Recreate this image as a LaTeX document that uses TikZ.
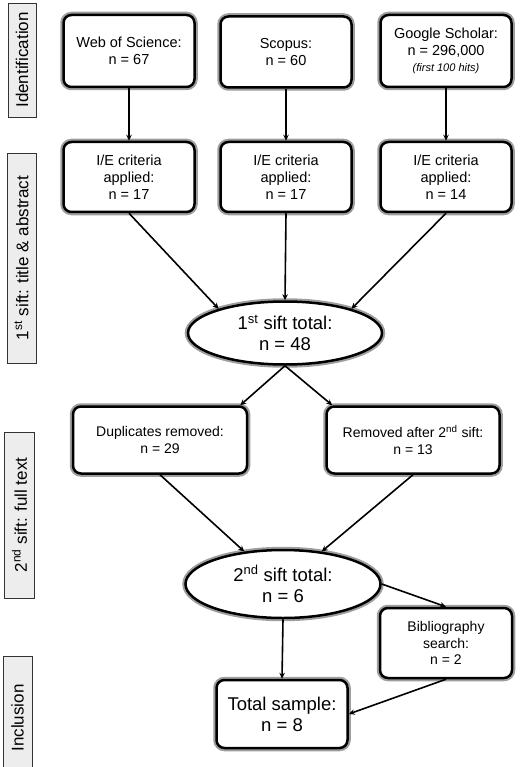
\documentclass[tikz,border=0pt]{standalone}
\usepackage{fontspec}
\setmainfont{Liberation Sans}
\usetikzlibrary{arrows.meta,shapes.geometric}
\tikzset{
  halo/.style={preaction={draw=black!38,line width=6.5pt}},
  box/.style={halo,draw=black,fill=white,line width=2.5pt,rounded corners=8pt,align=center,
    inner sep=2pt,font=\fontsize{14.5}{17}\selectfont},
  oval/.style={halo,ellipse,draw=black,fill=white,line width=2.5pt,align=center,inner sep=0pt,
    font=\fontsize{18.5}{21}\selectfont},
  side/.style={draw=black!80,fill=black!7,line width=0.9pt,rotate=90,inner sep=0pt,
    font=\fontsize{17}{20}\selectfont},
  arr/.style={-{Stealth[length=6pt,width=5.5pt]},line width=1.6pt},
}
\begin{document}
\begin{tikzpicture}[x=1pt,y=-1pt]
\useasboundingbox (0,0) rectangle (520,767);
\begin{scope}
\clip (0,0) rectangle (520,767);
% side labels
\node[side,minimum width=114pt,minimum height=28pt] (sid) at (22,60) {Identification};
\node[side,minimum width=210pt,minimum height=29pt] (sfirst) at (21.5,258) {1\textsuperscript{st} sift: title \& abstract};
\node[side,minimum width=166pt,minimum height=30pt] (ssecond) at (19.5,515) {2\textsuperscript{nd} sift: full text};
\node[side,minimum width=124pt,minimum height=29pt] (sinc) at (17.5,718) {Inclusion};
\end{scope}
% row 1
\node[box,minimum width=131pt,minimum height=72pt] (wos) at (129,51) {Web of Science:\\n = 67};
\node[box,minimum width=131pt,minimum height=71pt] (sco) at (286,52) {Scopus:\\n = 60};
\node[box,minimum width=131pt,minimum height=72pt] (gs) at (446,51) {Google Scholar:\\n = 296,000\\[-1pt]{\fontsize{11}{13}\selectfont\itshape (first 100 hits)}};
% row 2
\node[box,minimum width=131pt,minimum height=70pt] (wie) at (129,177) {I/E criteria\\applied:\\n = 17};
\node[box,minimum width=131pt,minimum height=70pt] (sie) at (286,177) {I/E criteria\\applied:\\n = 17};
\node[box,minimum width=131pt,minimum height=70pt] (gie) at (446,177) {I/E criteria\\applied:\\n = 14};
% first sift total
\node[oval,minimum width=194pt,minimum height=63pt] (e1) at (285,333) {1\textsuperscript{st} sift total:\\n = 48};
% removed
\node[box,minimum width=174pt,minimum height=67pt,font=\fontsize{14}{17}\selectfont] (dup) at (160,440) {Duplicates removed:\\n = 29};
\node[box,minimum width=173pt,minimum height=67pt,font=\fontsize{14}{17}\selectfont] (rem) at (413,440) {Removed after 2\textsuperscript{nd} sift:\\n = 13};
% second sift total
\node[oval,minimum width=195pt,minimum height=68pt] (e2) at (283,584) {2\textsuperscript{nd} sift total:\\n = 6};
% bibliography
\node[box,minimum width=132pt,minimum height=70pt,font=\fontsize{14}{16.7}\selectfont] (bib) at (446,643) {Bibliography\\search:\\n = 2};
% total
\node[box,minimum width=131pt,minimum height=68pt,font=\fontsize{18.5}{21}\selectfont] (tot) at (282,714) {Total sample:\\n = 8};
% connectors
\draw[arr] (wos) -- (wie);
\draw[arr] (sco) -- (sie);
\draw[arr] (gs) -- (gie);
\draw[arr] (wie.south) -- (e1.160);
\draw[arr] (sie.south) -- (e1.north);
\draw[arr] (gie.south) -- (e1.20);
\draw[arr] (e1.south) -- ([xshift=-8pt]dup.north east);
\draw[arr] (e1.south) -- ([xshift=7pt]rem.north west);
\draw[arr] (dup.south) -- (e2.140);
\draw[arr] (rem.south) -- (e2.40);
\draw[arr] (e2.east) -- (bib.north);
\draw[arr] (e2.south) -- (tot.north);
\draw[arr] (bib.south) -- (tot.east);
\end{tikzpicture}
\end{document}
